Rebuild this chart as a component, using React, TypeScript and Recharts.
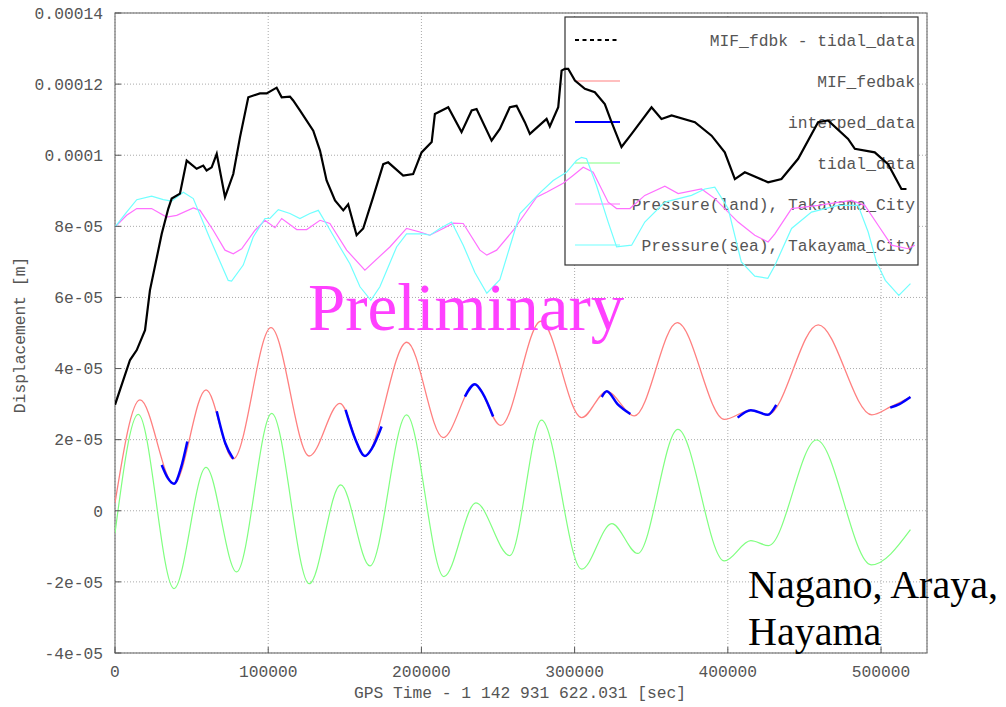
import React from 'react';
import { LineChart, Line, XAxis, YAxis, CartesianGrid, Customized } from 'recharts';

// x in units of 1000 s (GPS Time - 1 142 931 622.031), y in units of 1e-5 m
const xTicks = [0, 100, 200, 300, 400, 500];
const xTickLabels = ['0', '100000', '200000', '300000', '400000', '500000'];
const yTicks = [-4, -2, 0, 2, 4, 6, 8, 10, 12, 14];
const yTickLabels = ['-4e-05', '-2e-05', '0', '2e-05', '4e-05', '6e-05', '8e-05', '0.0001', '0.00012', '0.00014'];

const diffX = [0, 9.8, 14.2, 19.6, 22.8, 30.5, 34.8, 37.0, 42.4, 46.8, 53.3, 57.6, 59.8, 63.1, 66.4, 71.8, 77.2, 81.6, 87.0, 94.6, 99.0, 105.5, 108.8, 114.2, 116.3, 120.7, 129.4, 133.8, 138.1, 143.6, 149.0, 152.2, 157.7, 162.0, 168.5, 175.1, 178.3, 188.1, 194.6, 200.1, 206.7, 208.8, 217.5, 226.2, 232.8, 236.0, 245.8, 251.2, 257.7, 262.1, 267.5, 270.8, 281.7, 283.8, 289.3, 291.5, 293.6, 295.8, 300.2, 306.7, 313.2, 319.7, 324.1, 330.6, 337.2, 350.2, 356.7, 363.3, 378.5, 389.4, 398.0, 404.6, 411.1, 426.3, 435.0, 445.9, 458.9, 465.4, 478.5, 482.9, 495.9, 504.6, 513.3, 516.6];
const diffY = [2.98, 4.24, 4.52, 5.08, 6.2, 7.79, 8.5, 8.78, 8.92, 9.85, 9.62, 9.71, 9.57, 9.66, 10.04, 8.82, 9.47, 10.51, 11.63, 11.74, 11.74, 11.9, 11.63, 11.65, 11.54, 11.26, 10.69, 10.13, 9.29, 8.73, 8.45, 8.62, 7.75, 7.94, 8.82, 9.75, 9.8, 9.43, 9.47, 10.08, 10.37, 11.16, 11.35, 10.65, 11.26, 11.3, 10.41, 10.74, 11.35, 11.39, 10.93, 10.6, 11.02, 10.81, 11.35, 12.38, 12.43, 12.43, 12.1, 11.87, 11.77, 11.44, 10.93, 10.23, 10.6, 11.35, 11.02, 11.12, 10.93, 10.55, 10.08, 9.33, 9.52, 9.24, 9.33, 9.9, 10.93, 10.98, 10.46, 10.18, 10.08, 9.75, 9.05, 9.05];

const fedbakX = [0, 16.3, 38.5, 59.4, 77.2, 101.8, 126.8, 146.8, 163.1, 190.5, 214.2, 234.9, 251.7, 278.0, 304.6, 321.0, 339.0, 367.0, 397.7, 415.0, 426.1, 459.0, 494.0, 506.0, 519.2];
const fedbakY = [0.22, 3.12, 0.76, 3.40, 1.46, 5.15, 1.54, 3.02, 1.54, 4.74, 2.06, 3.56, 2.40, 5.33, 2.62, 3.36, 2.67, 5.29, 2.57, 2.83, 2.70, 5.23, 2.70, 2.92, 3.20];

const interpX = [30.5, 34.5, 38.5, 43, 47.2, 50, 66.4, 72, 77.2, 80, 150.5, 157, 163.1, 167.8, 174, 180, 228.4, 234.9, 240, 246.8, 250, 317.7, 321, 328, 336.4, 340, 406.4, 415, 426.1, 431.6, 440, 506, 512, 519.2];
const interpY = [1.29, 0.92, 0.76, 1.2, 1.95, null, 2.8, 1.9, 1.46, null, 2.84, 2.0, 1.54, 1.76, 2.37, null, 3.21, 3.56, 3.3, 2.65, null, 3.2, 3.36, 3.0, 2.72, null, 2.62, 2.83, 2.70, 2.98, null, 2.9, 3.0, 3.2];

const tidalX = [0, 15.2, 38.5, 59.4, 79.4, 102.3, 126.8, 147.3, 166.4, 190.3, 214.7, 235.6, 257.7, 278.4, 304.6, 324.3, 341.2, 367.4, 397.7, 415.0, 426.6, 457.9, 493.6, 519.2];
const tidalY = [-0.63, 2.71, -2.19, 1.22, -1.72, 2.74, -2.05, 0.73, -1.55, 2.70, -1.85, 0.22, -1.26, 2.55, -1.64, -0.36, -1.20, 2.29, -1.41, -0.84, -0.98, 1.99, -1.52, -0.53];

const landX = [0, 7.6, 14.2, 23.9, 33.7, 40.3, 51.1, 55.5, 64.1, 71.8, 77.2, 82.7, 91.4, 97.9, 104.4, 108.8, 118.6, 125.1, 133.8, 140.3, 151.2, 163.1, 179.4, 190.3, 199.0, 205.5, 214.2, 220.8, 227.3, 238.2, 242.7, 249.1, 260.0, 275.2, 281.7, 292.5, 299.0, 305.6, 312.1, 321.9, 327.4, 336.1, 345.8, 358.9, 367.6, 382.8, 391.5, 406.7, 417.6, 426.3, 430.7, 441.6, 458.9, 480.7, 489.4, 498.1, 506.8, 517.6, 522.0];
const landY = [7.98, 8.31, 8.5, 8.5, 8.26, 8.31, 8.52, 8.45, 7.89, 7.33, 7.23, 7.37, 7.89, 8.17, 7.96, 8.22, 7.91, 7.91, 8.17, 8.08, 7.33, 6.77, 7.42, 7.94, 7.84, 7.75, 7.94, 8.09, 8.08, 7.33, 7.19, 7.33, 7.89, 8.82, 8.96, 9.21, 9.43, 9.66, 9.52, 8.68, 8.5, 8.5, 8.87, 9.13, 8.92, 9.05, 8.78, 8.12, 7.75, 7.56, 7.79, 8.5, 8.59, 8.73, 8.59, 8.03, 7.47, 7.37, 7.47];

const seaX = [0, 7.6, 14.2, 23.9, 31.5, 37.0, 44.6, 51.1, 62.0, 73.9, 76.1, 83.7, 90.2, 97.9, 101.1, 106.6, 114.2, 120.7, 127.2, 132.7, 139.2, 146.8, 153.3, 159.9, 167.0, 172.9, 183.8, 190.3, 201.2, 205.5, 212.1, 219.7, 227.3, 234.9, 242.7, 251.2, 264.3, 277.3, 286.0, 294.7, 301.2, 304.5, 307.8, 314.3, 321.9, 327.4, 337.2, 345.8, 358.9, 376.3, 385.0, 391.5, 400.2, 408.8, 417.6, 426.1, 430.7, 441.6, 454.6, 472.0, 485.0, 491.6, 497.0, 502.8, 511.6, 519.2];
const seaY = [7.98, 8.4, 8.75, 8.85, 8.75, 8.71, 8.96, 8.78, 7.65, 6.48, 6.46, 6.91, 7.7, 8.22, 8.22, 8.47, 8.36, 8.22, 8.36, 8.45, 7.98, 7.42, 6.95, 6.3, 5.92, 6.3, 7.42, 7.79, 7.79, 7.75, 7.94, 8.12, 7.47, 6.7, 6.12, 6.5, 8.36, 8.94, 9.29, 9.52, 9.85, 9.94, 9.9, 9.15, 8.12, 7.42, 7.47, 8.12, 8.68, 8.87, 9.05, 9.1, 8.5, 7.0, 6.6, 6.54, 6.9, 7.94, 8.4, 8.59, 8.59, 7.84, 7.0, 6.48, 6.06, 6.39];

const legendNames = ['MIF_fdbk - tidal_data', 'MIF_fedbak', 'interped_data', 'tidal_data', 'Pressure(land), Takayama_City', 'Pressure(sea), Takayama_City'];
const seriesColors = ['#000000', '#ff8080', '#0000ff', '#80ff80', '#ff70ff', '#70ffff'];

const toPoints = (xs: number[], ys: (number | null)[]) => xs.map((x, i) => ({ x, y: ys[i] }));

const diffData = toPoints(diffX, diffY);
const fedbakData = toPoints(fedbakX, fedbakY);
const interpData = toPoints(interpX, interpY);
const tidalData = toPoints(tidalX, tidalY);
const landData = toPoints(landX, landY);
const seaData = toPoints(seaX, seaY);

const MONO = '"Liberation Mono", "DejaVu Sans Mono", monospace';
const SERIF = '"Liberation Serif", "DejaVu Serif", serif';
const FS = 16.3;

const PLOT = { left: 115, top: 13, right: 927, bottom: 653 };

const LegendBox = () => {
  const bx = 565, by = 17, bw = 353, bh = 248;
  const rowY = [40, 81, 122, 163, 204, 245];
  return (
    <g>
      <rect x={bx} y={by} width={bw} height={bh} fill="#ffffff" stroke="#333" strokeWidth={1.2} />
      {legendNames.map((n, i) => (
        <g key={n}>
          <line x1={575} x2={620} y1={rowY[i]} y2={rowY[i]} stroke={seriesColors[i]}
            strokeWidth={i === 0 || i === 2 ? 2 : 1.2} strokeDasharray={i === 0 ? '4 3.5' : undefined} />
          <text x={915} y={rowY[i]} dy="0.35em" textAnchor="end" fontFamily={MONO} fontSize={FS} fill="#555">{n}</text>
        </g>
      ))}
    </g>
  );
};

const Frame = () => (
  <rect x={PLOT.left} y={PLOT.top} width={PLOT.right - PLOT.left} height={PLOT.bottom - PLOT.top}
    fill="none" stroke="#777" strokeWidth={1.2} />
);

const blank = () => '';

export default function App() {
  return (
    <div style={{ position: 'absolute', left: 0, top: 0, width: 1006, height: 707, background: '#fff' }}>
      <LineChart width={1006} height={707} margin={{ top: 13, right: 79, left: 0, bottom: 0 }}>
        <CartesianGrid strokeDasharray="1 2" stroke="#aaa" />
        <XAxis dataKey="x" type="number" domain={[0, 530]} ticks={xTicks} allowDataOverflow
          tickFormatter={(v: number) => xTickLabels[xTicks.indexOf(v)]}
          height={54} axisLine={false} tickLine={{ stroke: '#555' }} tickSize={-6} tickMargin={18}
          tick={{ fontFamily: MONO, fontSize: FS, fill: '#555' }} />
        <XAxis xAxisId="top" orientation="top" dataKey="x" type="number" domain={[0, 530]} ticks={xTicks} allowDataOverflow
          tickFormatter={blank} height={0} axisLine={false} tickLine={{ stroke: '#555' }} tickSize={-6} />
        <YAxis type="number" domain={[-4, 14]} ticks={yTicks} allowDataOverflow
          tickFormatter={(v: number) => yTickLabels[yTicks.indexOf(v)]}
          width={115} axisLine={false} tickLine={{ stroke: '#555' }} tickSize={-6} tickMargin={18}
          tick={{ fontFamily: MONO, fontSize: FS, fill: '#555' }} />
        <YAxis yAxisId="right" orientation="right" type="number" domain={[-4, 14]} ticks={yTicks} allowDataOverflow
          tickFormatter={blank} width={0} axisLine={false} tickLine={{ stroke: '#555' }} tickSize={-6} />
        <Customized component={LegendBox} />
        <Line data={tidalData} dataKey="y" type="monotone" stroke={seriesColors[3]} strokeWidth={1.2} dot={false} isAnimationActive={false} />
        <Line data={fedbakData} dataKey="y" type="monotone" stroke={seriesColors[1]} strokeWidth={1.3} dot={false} isAnimationActive={false} />
        <Line data={interpData} dataKey="y" type="monotone" stroke={seriesColors[2]} strokeWidth={2.5} dot={false} isAnimationActive={false} />
        <Line data={landData} dataKey="y" type="linear" stroke={seriesColors[4]} strokeWidth={1.2} dot={false} isAnimationActive={false} />
        <Line data={seaData} dataKey="y" type="linear" stroke={seriesColors[5]} strokeWidth={1.2} dot={false} isAnimationActive={false} />
        <Line data={diffData} dataKey="y" type="linear" stroke={seriesColors[0]} strokeWidth={2.2} dot={false} isAnimationActive={false} />
        <Customized component={Frame} />
      </LineChart>
      <svg width={1006} height={707} style={{ position: 'absolute', left: 0, top: 0, pointerEvents: 'none' }}>
        <text x={19} y={335} transform="rotate(-90 19 335)" textAnchor="middle" dy="0.35em" fontFamily={MONO} fontSize={FS} fill="#555">Displacement [m]</text>
        <text x={520} y={698} textAnchor="middle" fontFamily={MONO} fontSize={FS} fill="#555">GPS Time - 1 142 931 622.031 [sec]</text>
        <text x={308} y={330} fontFamily={SERIF} fontSize={67} fill="#ff40ff">Preliminary</text>
        <text x={748} y={598} fontFamily={SERIF} fontSize={40} fill="#000">Nagano, Araya,</text>
        <text x={748} y={645} fontFamily={SERIF} fontSize={40} fill="#000">Hayama</text>
      </svg>
    </div>
  );
}
